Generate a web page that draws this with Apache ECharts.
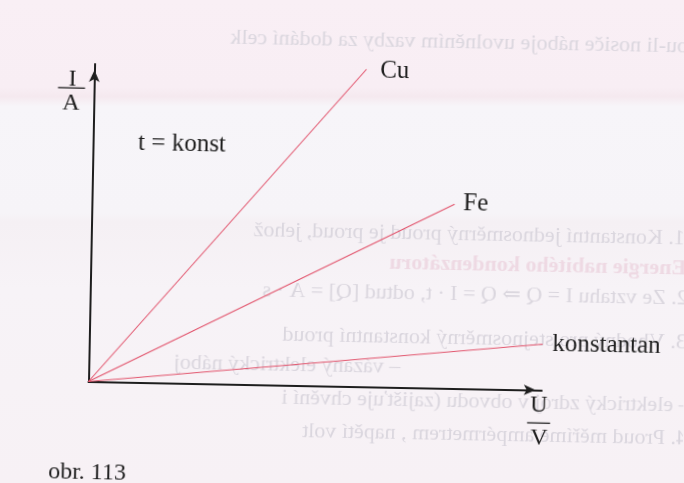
<!DOCTYPE html>
<html>
<head>
<meta charset="utf-8">
<script src="https://cdn.jsdelivr.net/npm/echarts@6/dist/echarts.min.js"></script>
<style>
  html, body { margin: 0; padding: 0; }
  body {
    width: 684px; height: 483px; overflow: hidden;
    background: linear-gradient(to bottom,
      #f9eff5 0%, #f8eef4 18%, #f5e9ef 20%, #f7f5f9 22%,
      #f6f4f8 44%, #f5f0f4 46%, #f7f3f7 60%, #f7f1f5 100%);
  }
  #chart {
    width: 684px; height: 483px;
    transform-origin: 88.5px 381.5px;
    transform: rotate(1.1deg);
  }
</style>
</head>
<body>
<div id="chart"></div>
<script>
// Current–voltage characteristics at constant temperature
const materials = ['Cu', 'Fe', 'konstantan'];
const voltageEnd = [6, 8, 10];        // U / V at the end of each line
const currentEnd = [10, 5.8, 1.45];   // I / A at the end of each line

// faint print showing through from the reverse side of the page
const backLines = [
  'sou-li nosiče náboje uvolněním vazby za dodání celk',
  '1. Konstantní jednosměrný proud je proud, jehož',
  'Energie nabitého kondenzátoru',
  '2. Ze vztahu I = Q ⇒ Q = I · t, odtud [Q] = A · s',
  '3. Vhodný pro stejnosměrný konstantní proud',
  '– vázaný elektrický náboj',
  '– elektrický zdroj v obvodu (zajišťuje chvění i',
  '4. Proud měříme ampérmetrem , napětí volt'
];

const serif = '"Liberation Serif", "DejaVu Serif", serif';
const ink = '#1e1e1e';
const lineColor = '#e2566e';

const labelOffsets = [[13.7, 1.7], [8.6, -1.2], [9.7, 0]];

const series = materials.map((name, i) => ({
  name: name,
  type: 'line',
  data: [[0, 0], [voltageEnd[i], currentEnd[i]]],
  symbol: 'none',
  clip: false,
  silent: true,
  lineStyle: { color: lineColor, width: 1.1 },
  endLabel: {
    show: true,
    formatter: '{a}',
    distance: 0,
    offset: labelOffsets[i],
    color: ink,
    fontFamily: serif,
    fontSize: 25
  }
}));

const backPos = [
  [690, 46], [682, 238], [684, 268], [686, 298],
  [686, 342], [400, 372], [690, 405], [688, 438]
];
const backText = backLines.map((t, i) => ({
  type: 'text',
  x: backPos[i][0],
  y: backPos[i][1],
  scaleX: -1,
  silent: true,
  z: -10,
  style: {
    text: t,
    fill: i === 2 ? '#eed9e3' : '#dad6de',
    font: (i === 2 ? 'bold ' : '') + '22px ' + serif,
    align: 'left',
    verticalAlign: 'bottom'
  }
}));

function label(text, x, y, size, align) {
  return {
    type: 'text', x: x, y: y, silent: true,
    style: {
      text: text, fill: ink, font: size + 'px ' + serif,
      align: align || 'center', verticalAlign: 'middle'
    }
  };
}
function bar(x1, y1, x2, y2) {
  return {
    type: 'line', silent: true,
    shape: { x1: x1, y1: y1, x2: x2, y2: y2 },
    style: { stroke: ink, lineWidth: 1.3 }
  };
}

const axisArrow = {
  show: true,
  symbol: ['none', 'arrow'],
  symbolSize: [8, 12],
  symbolOffset: [0, -6],
  lineStyle: { color: ink, width: 2 }
};

const chart = echarts.init(document.getElementById('chart'), null, { renderer: 'canvas' });
chart.setOption({
  animation: false,
  backgroundColor: 'transparent',
  grid: { left: 88.5, top: 64, width: 453.3, height: 317.5 },
  xAxis: {
    type: 'value', min: 0, max: 10,
    axisLine: axisArrow,
    axisTick: { show: false }, axisLabel: { show: false }, splitLine: { show: false }
  },
  yAxis: {
    type: 'value', min: 0, max: 10,
    axisLine: axisArrow,
    axisTick: { show: false }, axisLabel: { show: false }, splitLine: { show: false }
  },
  series: series,
  graphic: backText.concat([
    label('I', 66.7, 79.5, 24),
    bar(52.4, 88.3, 79.4, 88.3),
    label('A', 65.7, 104, 24),
    label('t = konst', 133.6, 142.5, 25, 'left'),
    label('U', 539.1, 397, 24),
    bar(527.8, 414.4, 550.8, 414.4),
    label('V', 539.8, 430.2, 24),
    label('obr. 113', 49.9, 472.5, 24, 'left')
  ])
});
</script>
</body>
</html>
